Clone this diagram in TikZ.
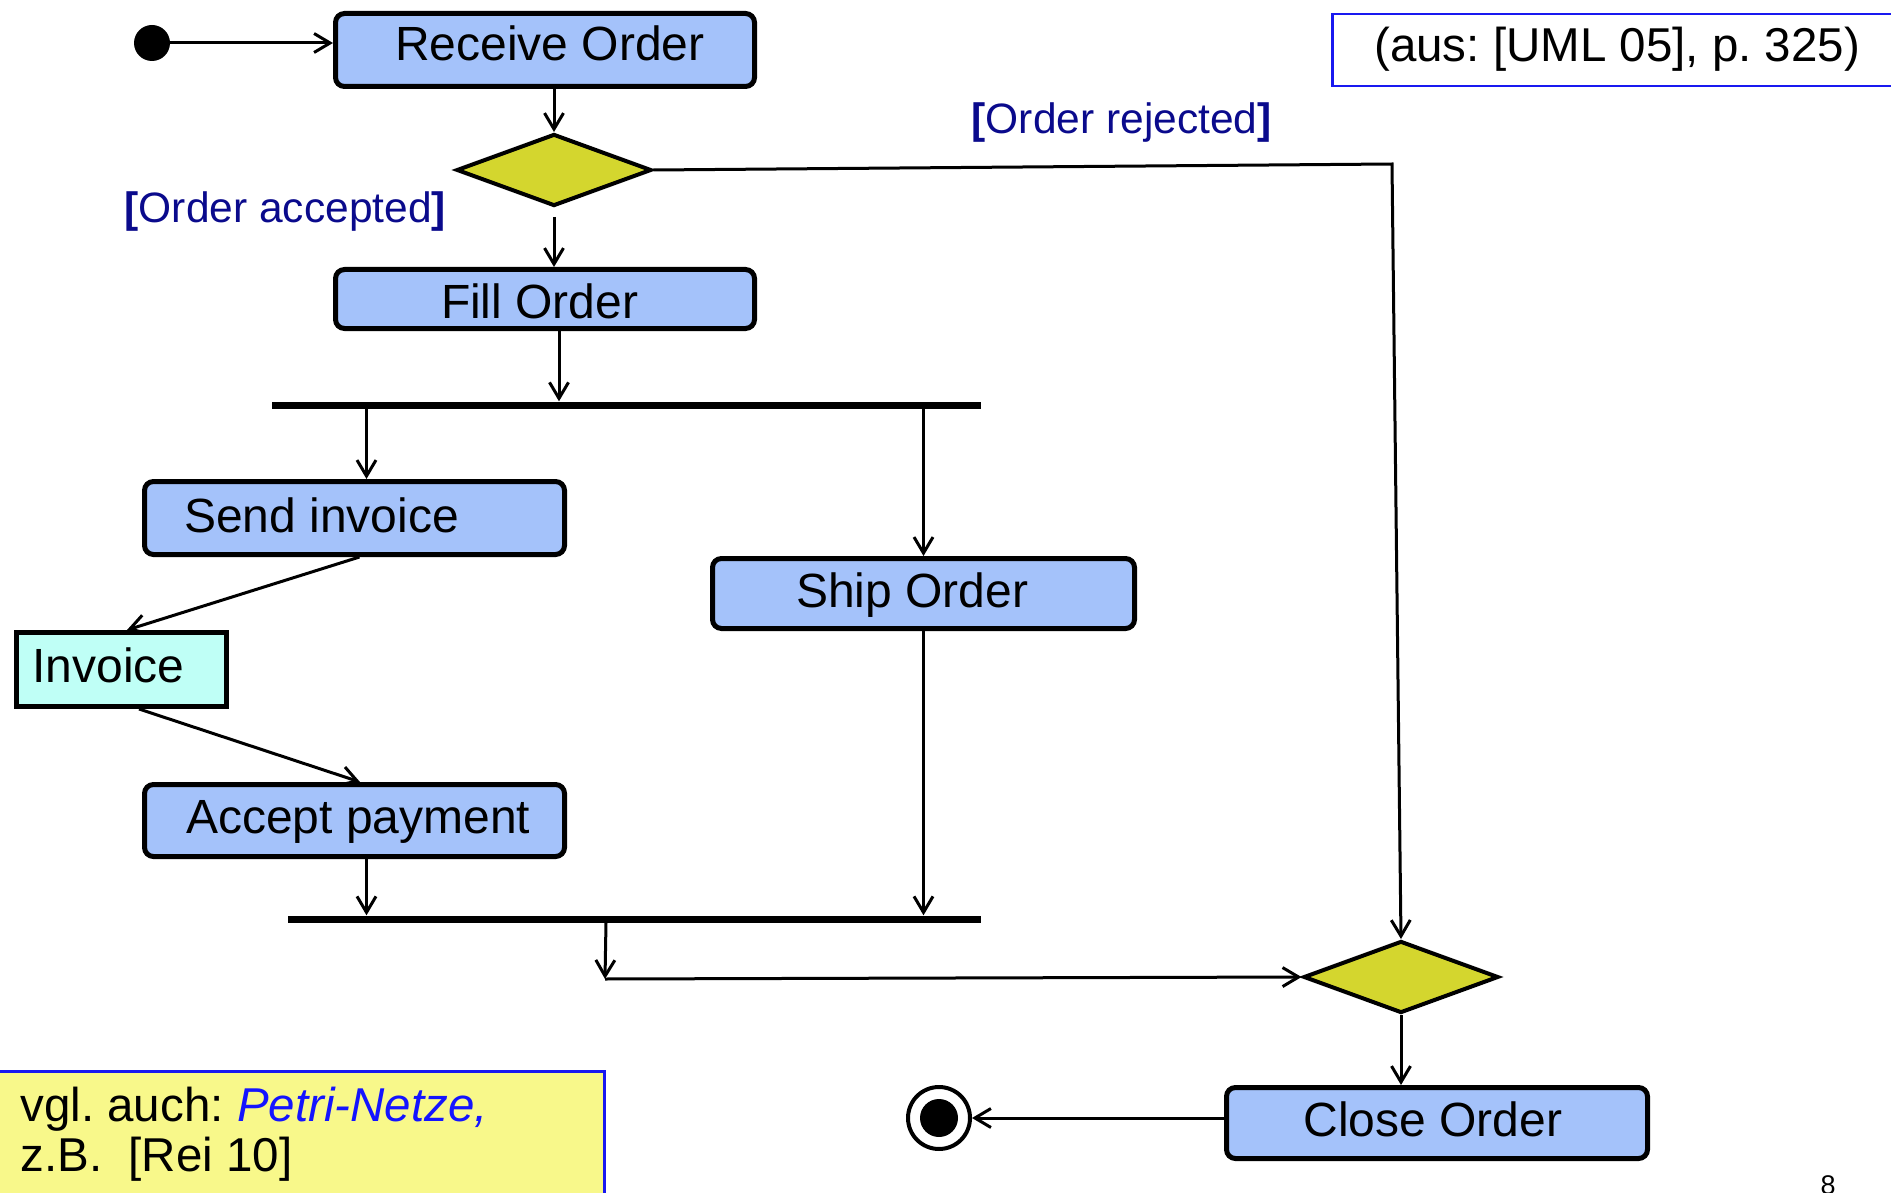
\documentclass[tikz,border=0pt]{standalone}
\usepackage{fontspec}
\setmainfont{Liberation Sans}
\usetikzlibrary{shapes.geometric,arrows.meta,calc}
\definecolor{actblue}{RGB}{164,194,250}
\definecolor{decyel}{RGB}{212,214,46}
\definecolor{objcyan}{RGB}{191,255,246}
\definecolor{noteyel}{RGB}{248,248,138}
\definecolor{guard}{RGB}{10,10,140}
\definecolor{linkblue}{RGB}{20,20,255}
\definecolor{frameblue}{RGB}{25,25,240}
\newcommand{\bt}[3]{\makebox[#1pt][l]{\hspace*{#2pt}#3}}
\frenchspacing
\begin{document}
\begin{tikzpicture}[x=1pt,y=-1pt,
  every node/.style={font=\fontsize{48}{56}\selectfont},
  act/.style={draw=black, line width=5pt, fill=actblue, rounded corners=9pt, inner sep=0pt, text depth=10pt},
  obj/.style={draw=black, line width=5pt, fill=objcyan, inner sep=0pt, text depth=10pt},
  dec/.style={diamond, draw=black, line width=4pt, fill=decyel, inner sep=0pt, minimum width=195pt, minimum height=72pt},
  bar/.style={fill=black, inner sep=0pt, minimum height=7pt},
  arr/.style={line width=3pt, -{Straight Barb[length=16pt,width=19pt]}},
  guardtxt/.style={text=guard, font=\fontsize{42.5}{50}\selectfont, inner sep=0pt, anchor=base west},
]
\clip (0,0) rectangle (1891,1193);

% activity nodes
\node[act, minimum height=73pt, text height=32pt] (recv) at (545,50) {\bt{419}{59.5}{Receive Order}};
\node[act, minimum height=59pt, text height=48pt] (fillo) at (545,299) {\bt{419}{105.5}{Fill Order}};
\node[act, minimum height=73pt, text height=38pt] (send) at (354.5,518) {\bt{420}{39.5}{Send invoice}};
\node[act, minimum height=70pt, text height=37pt] (ship) at (923.5,593.5) {\bt{422}{83.5}{Ship Order}};
\node[act, minimum height=72pt, text height=35pt] (acc) at (354.5,820.5) {\bt{420}{41.5}{Accept payment}};
\node[act, minimum height=71pt, text height=36pt] (close) at (1437,1123) {\bt{421}{77}{Close Order}};
\node[obj, minimum height=74pt, text height=35pt] (inv) at (121.5,669.5) {\bt{210}{16}{Invoice}};

% decisions, bars, start/end
\node[dec] (d1) at (554,170) {};
\node[dec] (d2) at (1401,977) {};
\node[bar, minimum width=709pt] (fork) at (626.5,405) {};
\node[bar, minimum width=693pt] (join) at (634.5,919) {};
\node[circle, fill=black, minimum size=36pt, inner sep=0pt] (start) at (152,43) {};
\node[circle, draw=black, line width=4pt, minimum size=62pt, inner sep=0pt] (final) at (939,1118) {};
\fill (final.center) circle[radius=19pt];
\coordinate (rej) at (1392,164);
\coordinate (jc) at (605,979);

% guards
\node[guardtxt] (gacc) at (124.5,223) {{\bfseries[}Order accepted{\bfseries]}};
\node[guardtxt] (grej) at (971.5,133.5) {{\bfseries[}Order rejected{\bfseries]}};

% source box
\node[draw=frameblue, line width=2.5pt, fill=white, anchor=north west, inner sep=0pt,
      minimum height=72pt, text height=34pt, text depth=10pt, font=\fontsize{47.5}{56}\selectfont] (src) at (1331,12.75)
      {\bt{600}{42}{(aus: [UML 05], p. 325)}};

% note box
\node[draw=frameblue, line width=3pt, fill=noteyel, anchor=north west, inner xsep=24pt, inner ysep=0pt,
      minimum width=608pt, text height=50pt, text depth=170pt] (note) at (-5,1069.5)
      {\parbox[t]{560pt}{\fontsize{47.5}{50.6}\selectfont vgl. auch: \textcolor{linkblue}{\textit{Petri-Netze,}}\\ z.B.\ \ [Rei 10]}};

% page number
\node[anchor=base, inner sep=0pt, font=\fontsize{27}{32}\selectfont] (pg) at (1828,1194) {8};

% connectors
\draw[arr] (start) -- (start -| recv.west);
\draw[arr] (d1.north |- recv.south) -- (d1.north);
\draw[arr, shorten <=9pt] (d1.south) -- (d1.south |- fillo.north);
\draw[arr] ([xshift=14pt]fillo.south) -- ([xshift=14pt]fillo.south |- fork.north);
\draw[arr] ([xshift=12pt]send.north |- fork.south) -- ([xshift=12pt]send.north);
\draw[arr] (ship.north |- fork.south) -- (ship.north);
\draw[arr] ([xshift=5pt]send.south) -- ([xshift=5.5pt]inv.north);
\draw[arr] ([xshift=17.5pt]inv.south) -- ([xshift=5.5pt]acc.north);
\draw[arr] ([xshift=12pt]acc.south) -- ([xshift=12pt]acc.south |- join.north);
\draw[arr] (ship.south) -- (ship.south |- join.north);
\draw[arr] ([xshift=-28.5pt]join.south) -- (jc);
\draw[arr] (jc) -- (d2.west);
\draw[arr] (d1.east) -- (rej) -- (d2.north);
\draw[arr] (d2.south) -- (d2.south |- close.north);
\draw[arr] (close.west |- final.east) -- (final.east);
\end{tikzpicture}
\end{document}
